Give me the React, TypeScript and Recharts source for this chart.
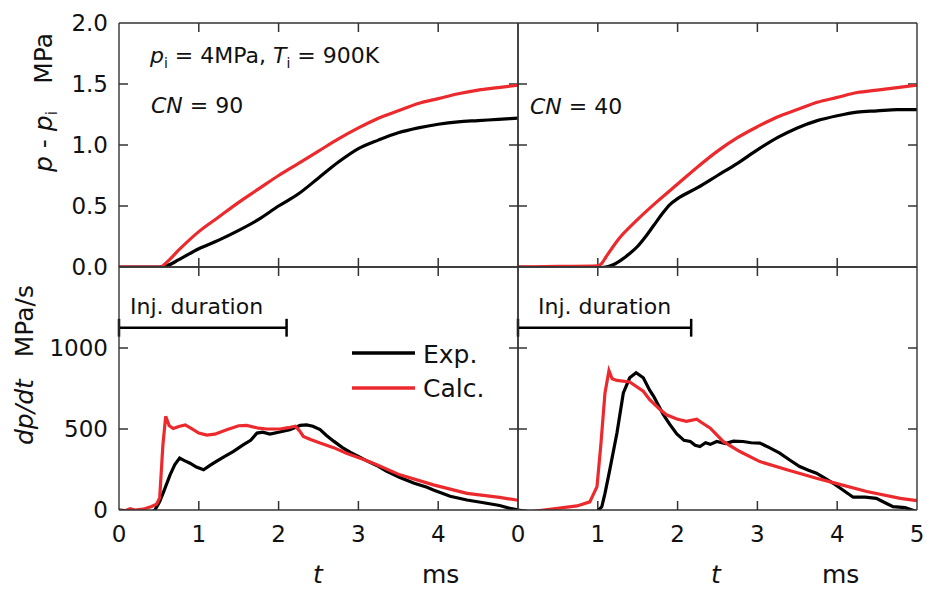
import React from 'react';
import { LineChart, Line, XAxis, YAxis, ReferenceLine } from 'recharts';

const W = 927;
const H = 592;
const RED = '#ec2a2e';
const AX = '#333';
const FONT = '"DejaVu Sans", sans-serif';
const TICK = 9;

// --- p - pi, CN = 90 ---
const tPExp90 = [0, 0.5, 0.6, 0.75, 1.0, 1.25, 1.5, 1.75, 2.0, 2.25, 2.5, 2.75, 3.0, 3.25, 3.5, 3.75, 4.0, 4.25, 4.5, 4.75, 5.0];
const pExp90 = [0, 0, 0.01, 0.06, 0.15, 0.22, 0.3, 0.39, 0.5, 0.6, 0.73, 0.86, 0.97, 1.04, 1.1, 1.14, 1.17, 1.19, 1.2, 1.21, 1.22];
const tPCalc90 = [0, 0.52, 0.6, 0.75, 1.0, 1.25, 1.5, 1.75, 2.0, 2.25, 2.5, 2.75, 3.0, 3.25, 3.5, 3.75, 4.0, 4.25, 4.5, 4.75, 5.0];
const pCalc90 = [0, 0, 0.04, 0.14, 0.29, 0.41, 0.53, 0.64, 0.75, 0.85, 0.95, 1.05, 1.14, 1.22, 1.28, 1.34, 1.38, 1.42, 1.45, 1.47, 1.49];

// --- p - pi, CN = 40 ---
const tPExp40 = [0, 0.5, 1.0, 1.1, 1.2, 1.3, 1.4, 1.5, 1.6, 1.7, 1.8, 1.9, 2.0, 2.25, 2.5, 2.75, 3.0, 3.25, 3.5, 3.75, 4.0, 4.25, 4.5, 4.75, 5.0];
const pExp40 = [0, -0.005, -0.005, 0, 0.02, 0.06, 0.11, 0.17, 0.25, 0.34, 0.43, 0.51, 0.56, 0.65, 0.75, 0.85, 0.96, 1.06, 1.14, 1.2, 1.24, 1.27, 1.28, 1.29, 1.29];
const tPCalc40 = [0, 0.5, 1.0, 1.05, 1.1, 1.25, 1.5, 1.75, 2.0, 2.25, 2.5, 2.75, 3.0, 3.25, 3.5, 3.75, 4.0, 4.25, 4.5, 4.75, 5.0];
const pCalc40 = [0, 0.005, 0.01, 0.03, 0.08, 0.22, 0.39, 0.54, 0.68, 0.82, 0.95, 1.06, 1.15, 1.23, 1.29, 1.35, 1.39, 1.43, 1.45, 1.47, 1.49];

// --- dp/dt, CN = 90 ---
const tRExp90 = [0, 0.1, 0.2, 0.3, 0.4, 0.45, 0.51, 0.56, 0.64, 0.7, 0.76, 0.82, 0.89, 0.97, 1.06, 1.14, 1.22, 1.32, 1.43, 1.56, 1.65, 1.73, 1.8, 1.89, 2.0, 2.14, 2.27, 2.35, 2.43, 2.52, 2.6, 2.69, 2.8, 2.9, 3.0, 3.1, 3.23, 3.35, 3.52, 3.7, 3.86, 3.94, 4.15, 4.36, 4.57, 4.77, 4.9, 5.0];
const rExp90 = [0, -5, -15, -25, -15, 0, 52, 113, 217, 280, 320, 305, 289, 265, 248, 275, 300, 330, 361, 403, 430, 475, 480, 469, 480, 496, 522, 525, 517, 496, 460, 425, 385, 355, 330, 305, 275, 240, 200, 165, 140, 124, 85, 62, 45, 28, 10, 0];
const tRCalc90 = [0, 0.05, 0.14, 0.2, 0.3, 0.4, 0.47, 0.51, 0.55, 0.585, 0.63, 0.68, 0.75, 0.83, 0.9, 1.0, 1.1, 1.2, 1.35, 1.5, 1.6, 1.75, 1.85, 2.02, 2.12, 2.21, 2.26, 2.31, 2.4, 2.52, 2.69, 2.85, 3.1, 3.23, 3.52, 3.94, 4.36, 4.77, 5.0];
const rCalc90 = [0, -10, 8, 0, 5, 20, 35, 75, 400, 578, 520, 503, 515, 525, 505, 475, 462, 468, 495, 520, 522, 505, 500, 500, 508, 517, 490, 454, 435, 413, 385, 350, 305, 279, 217, 155, 103, 78, 60];

// --- dp/dt, CN = 40 ---
const tRExp40 = [0, 0.2, 0.4, 0.6, 0.8, 0.99, 1.05, 1.09, 1.15, 1.24, 1.32, 1.4, 1.48, 1.57, 1.65, 1.7, 1.82, 1.9, 1.99, 2.08, 2.16, 2.22, 2.28, 2.35, 2.41, 2.49, 2.6, 2.7, 2.82, 2.92, 3.03, 3.15, 3.28, 3.4, 3.53, 3.64, 3.74, 3.85, 3.95, 4.08, 4.2, 4.35, 4.49, 4.6, 4.7, 4.85, 5.0];
const rExp40 = [0, -15, -25, -20, -12, -10, 20, 103, 248, 475, 723, 816, 847, 816, 740, 702, 590, 530, 470, 430, 423, 400, 392, 415, 405, 423, 410, 425, 423, 415, 413, 385, 351, 310, 268, 245, 227, 195, 165, 120, 79, 80, 72, 45, 21, 15, -10];
const tRCalc40 = [0, 0.03, 0.32, 0.74, 0.9, 0.99, 1.04, 1.09, 1.14, 1.18, 1.24, 1.4, 1.57, 1.65, 1.78, 1.86, 1.99, 2.11, 2.24, 2.3, 2.41, 2.57, 2.78, 3.03, 3.37, 3.74, 3.95, 4.37, 4.79, 5.0];
const rCalc40 = [0, -20, 0, 25, 50, 144, 413, 723, 860, 810, 800, 790, 733, 681, 620, 588, 562, 547, 560, 540, 505, 423, 361, 299, 248, 196, 169, 114, 72, 58];

// injection durations (ms)
const injEnd90 = 2.1;
const injEnd40 = 2.17;

// axes
const tDomain: [number, number] = [0, 5];
const tTicks = [0, 1, 2, 3, 4, 5];
const tInner = [1, 2, 3, 4];
const tLabelsLeft = ['0', '1', '2', '3', '4', ''];
const tLabelsRight = ['0', '1', '2', '3', '4', '5'];
const pTicks = [0, 0.5, 1, 1.5, 2];
const pInner = [0.5, 1, 1.5];
const pLabels = ['0.0', '0.5', '1.0', '1.5', '2.0'];
const rTicks = [0, 500, 1000, 1500];
const rInner = [500, 1000];
const rLabels = ['0', '500', '1000', ''];

const toRows = (ts: number[], vs: number[]) => ts.map((t, i) => ({ t, v: vs[i] }));

interface Box {
  left: number;
  top: number;
  right: number;
  bottom: number;
}

// tick labels only, placed from the scale coordinate
const makeLabel = (side: 'left' | 'bottom', box: Box, ticks: number[], labels?: string[]) => (p: any) => {
  const v = p.payload.value;
  const c = Number(p.payload.coordinate);
  const lab = labels ? labels[ticks.indexOf(v)] : '';
  if (!lab) return <g />;
  if (side === 'left') {
    return (
      <text x={box.left - 11} y={c} dy="0.36em" textAnchor="end" fontSize={23} fontFamily={FONT} fill="#111">
        {lab}
      </text>
    );
  }
  return (
    <text x={c} y={box.bottom + 32} textAnchor="middle" fontSize={23} fontFamily={FONT} fill="#111">
      {lab}
    </text>
  );
};

interface PanelProps {
  box: Box; // plot area in page pixels
  yDomain: [number, number];
  yTicks: number[];
  yInner: number[];
  yLabels?: string[];
  xLabels?: string[];
  exp: { t: number; v: number }[];
  calc: { t: number; v: number }[];
  noisy?: boolean;
  injEnd?: number;
}

const axisLine = { stroke: AX, strokeWidth: 1.4 };

const Panel: React.FC<PanelProps> = ({ box, yDomain, yTicks, yInner, yLabels, xLabels, exp, calc, noisy, injEnd }) => {
  // every axis takes 1px, so take it off the margins
  const margin = {
    top: box.top - 1,
    left: box.left - 1,
    right: W - box.right - 1,
    bottom: H - box.bottom - 1,
  };
  // inward tick length in data units
  const [y0, y1] = yDomain;
  const dy = ((y1 - y0) * TICK) / (box.bottom - box.top);
  const dx = ((tDomain[1] - tDomain[0]) * TICK) / (box.right - box.left);
  const tickStyle = { stroke: AX, strokeWidth: 1.5, ifOverflow: 'visible' as const };
  return (
    <div style={{ position: 'absolute', left: 0, top: 0 }}>
      <LineChart width={W} height={H} margin={margin}>
        <XAxis
          dataKey="t"
          type="number"
          domain={tDomain}
          ticks={tTicks}
          interval={0}
          height={1}
          tickSize={0}
          tickMargin={0}
          tickLine={false}
          axisLine={axisLine}
          allowDataOverflow
          tick={makeLabel('bottom', box, tTicks, xLabels)}
        />
        <XAxis
          xAxisId="top"
          orientation="top"
          type="number"
          domain={tDomain}
          ticks={tTicks}
          height={1}
          tick={false}
          tickLine={false}
          axisLine={axisLine}
        />
        <YAxis
          type="number"
          domain={yDomain}
          ticks={yTicks}
          interval={0}
          width={1}
          tickSize={0}
          tickMargin={0}
          tickLine={false}
          axisLine={axisLine}
          allowDataOverflow
          tick={makeLabel('left', box, yTicks, yLabels)}
        />
        <YAxis
          yAxisId="right"
          orientation="right"
          type="number"
          domain={yDomain}
          ticks={yTicks}
          width={1}
          tick={false}
          tickLine={false}
          axisLine={axisLine}
        />
        {tInner.map((t) => (
          <ReferenceLine key={`b${t}`} segment={[{ x: t, y: y0 }, { x: t, y: y0 + dy }]} {...tickStyle} />
        ))}
        {tInner.map((t) => (
          <ReferenceLine key={`t${t}`} segment={[{ x: t, y: y1 }, { x: t, y: y1 - dy }]} {...tickStyle} />
        ))}
        {yInner.map((v) => (
          <ReferenceLine key={`l${v}`} segment={[{ x: tDomain[0], y: v }, { x: tDomain[0] + dx, y: v }]} {...tickStyle} />
        ))}
        {yInner.map((v) => (
          <ReferenceLine key={`r${v}`} segment={[{ x: tDomain[1], y: v }, { x: tDomain[1] - dx, y: v }]} {...tickStyle} />
        ))}
        {injEnd !== undefined && (
          <ReferenceLine segment={[{ x: 0, y: 1125 }, { x: injEnd, y: 1125 }]} stroke="#000" strokeWidth={2.5} />
        )}
        {injEnd !== undefined && (
          <ReferenceLine segment={[{ x: 0, y: 1070 }, { x: 0, y: 1180 }]} stroke="#000" strokeWidth={2.5} />
        )}
        {injEnd !== undefined && (
          <ReferenceLine segment={[{ x: injEnd, y: 1070 }, { x: injEnd, y: 1180 }]} stroke="#000" strokeWidth={2.5} />
        )}
        <Line
          data={exp}
          dataKey="v"
          type={noisy ? 'linear' : 'monotone'}
          stroke="#000"
          strokeWidth={3.2}
          dot={false}
          activeDot={false}
          isAnimationActive={false}
        />
        <Line
          data={calc}
          dataKey="v"
          type={noisy ? 'linear' : 'monotone'}
          stroke={RED}
          strokeWidth={3.2}
          dot={false}
          activeDot={false}
          isAnimationActive={false}
        />
      </LineChart>
    </div>
  );
};

const txt = { fontFamily: FONT, fill: '#111' };

export default function App() {
  return (
    <div style={{ position: 'absolute', left: 0, top: 0, width: W, height: H, background: '#fff' }}>
      <Panel
        box={{ left: 119, top: 23, right: 518, bottom: 267 }}
        yDomain={[0, 2]}
        yTicks={pTicks}
        yInner={pInner}
        yLabels={pLabels}
        exp={toRows(tPExp90, pExp90)}
        calc={toRows(tPCalc90, pCalc90)}
      />
      <Panel
        box={{ left: 518, top: 23, right: 917, bottom: 267 }}
        yDomain={[0, 2]}
        yTicks={pTicks}
        yInner={pInner}
        exp={toRows(tPExp40, pExp40)}
        calc={toRows(tPCalc40, pCalc40)}
      />
      <Panel
        box={{ left: 119, top: 267, right: 518, bottom: 510 }}
        yDomain={[0, 1500]}
        yTicks={rTicks}
        yInner={rInner}
        yLabels={rLabels}
        xLabels={tLabelsLeft}
        exp={toRows(tRExp90, rExp90)}
        calc={toRows(tRCalc90, rCalc90)}
        noisy
        injEnd={injEnd90}
      />
      <Panel
        box={{ left: 518, top: 267, right: 917, bottom: 510 }}
        yDomain={[0, 1500]}
        yTicks={rTicks}
        yInner={rInner}
        xLabels={tLabelsRight}
        exp={toRows(tRExp40, rExp40)}
        calc={toRows(tRCalc40, rCalc40)}
        noisy
        injEnd={injEnd40}
      />
      <svg width={W} height={H} style={{ position: 'absolute', left: 0, top: 0, pointerEvents: 'none' }}>
        {/* y titles */}
        <text transform="translate(52,172) rotate(-90)" fontSize={25} {...txt}>
          <tspan fontStyle="italic">p</tspan>
          <tspan> - </tspan>
          <tspan fontStyle="italic">p</tspan>
          <tspan fontSize={15} dy={5}>i</tspan>
        </text>
        <text transform="translate(52,33) rotate(-90)" fontSize={25} textAnchor="end" {...txt}>
          MPa
        </text>
        <text transform="translate(33,445) rotate(-90)" fontSize={25} fontStyle="italic" {...txt}>
          dp/dt
        </text>
        <text transform="translate(33,285) rotate(-90)" fontSize={25} textAnchor="end" {...txt}>
          MPa/s
        </text>
        {/* x titles */}
        <text x={313} y={583} fontSize={25} fontStyle="italic" {...txt}>t</text>
        <text x={422} y={583} fontSize={25} {...txt}>ms</text>
        <text x={711} y={583} fontSize={25} fontStyle="italic" {...txt}>t</text>
        <text x={822} y={583} fontSize={25} {...txt}>ms</text>
        {/* annotations */}
        <text x={150} y={63} fontSize={22} {...txt}>
          <tspan fontStyle="italic">p</tspan>
          <tspan fontSize={14} dy={5}>i</tspan>
          <tspan dy={-5}> = 4MPa, </tspan>
          <tspan fontStyle="italic">T</tspan>
          <tspan fontSize={14} dy={5}>i</tspan>
          <tspan dy={-5}> = 900K</tspan>
        </text>
        <text x={151} y={113} fontSize={22} {...txt}>
          <tspan fontStyle="italic">CN</tspan>
          <tspan> = 90</tspan>
        </text>
        <text x={530} y={114} fontSize={22} {...txt}>
          <tspan fontStyle="italic">CN</tspan>
          <tspan> = 40</tspan>
        </text>
        <text x={130} y={314} fontSize={22} {...txt}>Inj. duration</text>
        <text x={538} y={314} fontSize={22} {...txt}>Inj. duration</text>
        {/* legend */}
        <line x1={352} y1={353} x2={415} y2={353} stroke="#000" strokeWidth={3.5} />
        <text x={423} y={363} fontSize={25} {...txt}>Exp.</text>
        <line x1={352} y1={388} x2={415} y2={388} stroke={RED} strokeWidth={3.5} />
        <text x={423} y={397} fontSize={25} {...txt}>Calc.</text>
      </svg>
    </div>
  );
}
